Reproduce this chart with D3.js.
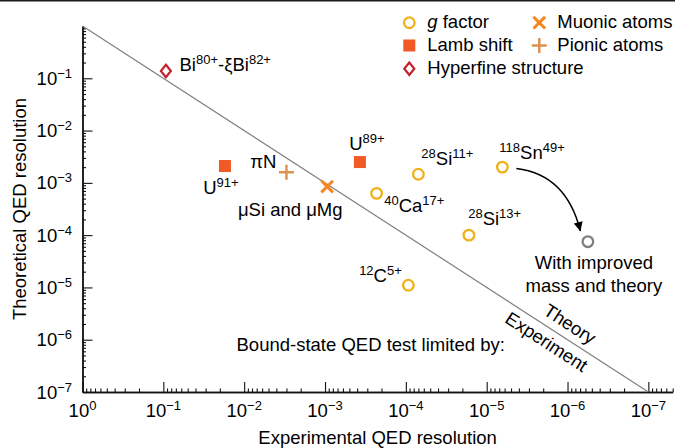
<!DOCTYPE html>
<html>
<head>
<meta charset="utf-8">
<script src="https://cdn.jsdelivr.net/npm/d3@7"></script>
<style>
  html, body { margin: 0; padding: 0; background: #fff; }
  svg { display: block; }
  text { font-family: "Liberation Sans", Arial, Helvetica, sans-serif; fill: #000; }
</style>
</head>
<body>
<svg id="chart" width="675" height="448"></svg>
<script>
// ---- data: experimental vs theoretical QED resolution ----
const gFactorLabels = ["^{118}Sn^{49+}", "^{28}Si^{11+}", "^{40}Ca^{17+}", "^{28}Si^{13+}", "^{12}C^{5+}"];
const gFactorExp    = [6.4e-6, 7.0e-5, 2.3e-4, 1.66e-5, 9.3e-5];
const gFactorTheo   = [2.0e-3, 1.46e-3, 6.3e-4, 1.0e-4, 1.1e-5];

const lambLabels = ["U^{91+}", "U^{89+}"];
const lambExp    = [1.73e-2, 3.7e-4];
const lambTheo   = [2.1e-3, 2.5e-3];

const hfsLabels = ["Bi^{80+}-ξBi^{82+}"];
const hfsExp    = [9.3e-2];
const hfsTheo   = [1.38e-1];

const muonicLabels = ["μSi and μMg"];
const muonicExp    = [9.4e-4];
const muonicTheo   = [8.5e-4];

const pionicLabels = ["πN"];
const pionicExp    = [3.0e-3];
const pionicTheo   = [1.6e-3];

const improvedLabel = ["With improved", "mass and theory"];
const improvedExp   = [5.6e-7];
const improvedTheo  = [7.5e-5];

const xMajorTicks = [1e0, 1e-1, 1e-2, 1e-3, 1e-4, 1e-5, 1e-6, 1e-7];
const xTickExponents = ["0", "−1", "−2", "−3", "−4", "−5", "−6", "−7"];
const yMajorTicks = [1e-1, 1e-2, 1e-3, 1e-4, 1e-5, 1e-6, 1e-7];
const yTickExponents = ["−1", "−2", "−3", "−4", "−5", "−6", "−7"];

const legendItems = [
  { key: "g", label: "g factor" },
  { key: "lamb", label: "Lamb shift" },
  { key: "hfs", label: "Hyperfine structure" },
  { key: "muon", label: "Muonic atoms" },
  { key: "pion", label: "Pionic atoms" }
];

// ---- styles ----
const COL = {
  g: "#f0b21a",
  lamb: "#f15a24",
  hfs: "#c4202b",
  muon: "#f7861e",
  pion: "#dc9352",
  improved: "#808080",
  diag: "#808080",
  axis: "#111"
};
const FS = 18.5, SUP = 13, SUPSHIFT = 7;

const svg = d3.select("#chart");
const W = 675, H = 448;
const margin = { left: 82.5, right: 2.3, top: 26, bottom: 56 };

const x = d3.scaleLog().domain([1, 5e-8]).range([margin.left, W - margin.right]);
const y = d3.scaleLog().domain([1e-7, 1]).range([H - margin.bottom, margin.top]);

// top rule of the figure panel
svg.append("rect").attr("x", 0).attr("y", 0).attr("width", W).attr("height", 1.5).attr("fill", "#1c1c1c");

// rich text helper: "^{..}" marks superscripts
function rich(sel, str, size = FS, supSize = SUP, shift = SUPSHIFT) {
  const parts = [];
  const re = /\^\{([^}]*)\}/g;
  let last = 0, m;
  while ((m = re.exec(str)) !== null) {
    if (m.index > last) parts.push({ t: str.slice(last, m.index), sup: false });
    parts.push({ t: m[1], sup: true });
    last = re.lastIndex;
  }
  if (last < str.length) parts.push({ t: str.slice(last), sup: false });
  let raised = false;
  parts.forEach(p => {
    const ts = sel.append("tspan").text(p.t);
    if (p.sup) {
      ts.attr("font-size", supSize);
      if (!raised) { ts.attr("dy", -shift); raised = true; }
    } else {
      ts.attr("font-size", size);
      if (raised) { ts.attr("dy", shift); raised = false; }
    }
  });
  return sel;
}

// ---- axes ----
const minorTicks = [];
for (let e = 0; e >= -8; e--) {
  for (let k = 2; k <= 9; k++) minorTicks.push(k * Math.pow(10, e));
}
const xMinor = minorTicks.filter(v => v <= 1 && v >= 5e-8 * 0.9999);
const yMinor = minorTicks.filter(v => v <= 1 && v >= 1e-7);

const xAxis = d3.axisBottom(x).tickValues(xMajorTicks).tickSizeInner(-10).tickSizeOuter(0).tickFormat("");
const xAxisMinor = d3.axisBottom(x).tickValues(xMinor).tickSizeInner(-3.5).tickSizeOuter(0).tickFormat("");
const yAxis = d3.axisLeft(y).tickValues(yMajorTicks).tickSizeInner(-10).tickSizeOuter(0).tickFormat("");
const yAxisMinor = d3.axisLeft(y).tickValues(yMinor).tickSizeInner(-3.5).tickSizeOuter(0).tickFormat("");

function styleAxis(g) {
  g.selectAll("path.domain").attr("stroke", COL.axis).attr("stroke-width", 1.4);
  g.selectAll(".tick line").attr("stroke", COL.axis).attr("stroke-width", 1.1);
}
const y0 = y.range()[0];
svg.append("g").attr("transform", `translate(0,${y0})`).call(xAxisMinor).call(styleAxis);
svg.append("g").attr("transform", `translate(0,${y0})`).call(xAxis).call(styleAxis);
svg.append("g").attr("transform", `translate(${margin.left},0)`).call(yAxisMinor).call(styleAxis);
svg.append("g").attr("transform", `translate(${margin.left},0)`).call(yAxis).call(styleAxis);

// tick labels as 10^n
xMajorTicks.forEach((v, i) => {
  const tx = svg.append("text").attr("x", x(v)).attr("y", y0 + 24.5).attr("text-anchor", "middle");
  rich(tx, "10^{" + xTickExponents[i] + "}");
});
yMajorTicks.forEach((v, i) => {
  const ty = svg.append("text").attr("x", margin.left - 10.5).attr("y", y(v) + 6.5).attr("text-anchor", "end");
  rich(ty, "10^{" + yTickExponents[i] + "}");
});

// axis titles
svg.append("text").attr("x", (x.range()[0] + x.range()[1]) / 2).attr("y", 443.5)
  .attr("text-anchor", "middle").attr("font-size", FS).text("Experimental QED resolution");
svg.append("text")
  .attr("transform", `translate(26,${(y.range()[0] + y.range()[1]) / 2}) rotate(-90)`)
  .attr("text-anchor", "middle").attr("font-size", FS).text("Theoretical QED resolution");

// ---- diagonal: theory limit = experiment limit ----
svg.append("line")
  .attr("x1", x(1)).attr("y1", y(1)).attr("x2", x(1e-7)).attr("y2", y(1e-7))
  .attr("stroke", COL.diag).attr("stroke-width", 1.2);

const diagAngle = Math.atan2(y(1e-7) - y(1), x(1e-7) - x(1)) * 180 / Math.PI;
const diagV = Math.pow(10, -5.87);
const dg = svg.append("g").attr("transform", `translate(${x(diagV)},${y(diagV)}) rotate(${diagAngle})`);
dg.append("text").attr("x", 6).attr("y", -8).attr("text-anchor", "middle").attr("font-size", FS).text("Theory");
dg.append("text").attr("x", -4).attr("y", 19.5).attr("text-anchor", "middle").attr("font-size", FS).text("Experiment");

svg.append("text").attr("x", 236.5).attr("y", 351).attr("font-size", FS).text("Bound-state QED test limited by:");

// ---- marker shapes ----
function drawMarker(g, key, cx, cy) {
  if (key === "g" || key === "improved") {
    g.append("circle").attr("cx", cx).attr("cy", cy).attr("r", 5.3)
      .attr("fill", "#fff").attr("stroke", COL[key]).attr("stroke-width", 2.3);
  } else if (key === "lamb") {
    g.append("rect").attr("x", cx - 6).attr("y", cy - 6).attr("width", 12).attr("height", 12).attr("fill", COL.lamb);
  } else if (key === "hfs") {
    g.append("path").attr("d", `M${cx},${cy - 6.2}L${cx + 5},${cy}L${cx},${cy + 6.2}L${cx - 5},${cy}Z`)
      .attr("fill", "#fff").attr("stroke", COL.hfs).attr("stroke-width", 2.2);
  } else if (key === "muon") {
    const s = 5.8;
    g.append("path").attr("d", `M${cx - s},${cy - s}L${cx + s},${cy + s}M${cx - s},${cy + s}L${cx + s},${cy - s}`)
      .attr("stroke", COL.muon).attr("stroke-width", 3).attr("fill", "none");
  } else if (key === "pion") {
    const s = 7.5;
    g.append("path").attr("d", `M${cx - s},${cy}L${cx + s},${cy}M${cx},${cy - s}L${cx},${cy + s}`)
      .attr("stroke", COL.pion).attr("stroke-width", 2.5).attr("fill", "none");
  }
}

// ---- arrow from Sn to improved projection ----
const defs = svg.append("defs");
defs.append("marker").attr("id", "head").attr("viewBox", "0 0 10 10")
  .attr("refX", 10).attr("refY", 5).attr("markerWidth", 10).attr("markerHeight", 9)
  .attr("markerUnits", "userSpaceOnUse").attr("orient", "auto")
  .append("path").attr("d", "M0,0L10,5L0,10Z").attr("fill", "#000");

const snX = x(gFactorExp[0]), snY = y(gFactorTheo[0]);
const imX = x(improvedExp[0]), imY = y(improvedTheo[0]);
const a0 = [snX + 14, snY + 1.5], a1 = [imX - 7.5, imY - 10.5];
svg.append("path")
  .attr("d", `M${a0[0]},${a0[1]}Q${a0[0] + 50},${a0[1] + 6} ${a1[0]},${a1[1]}`)
  .attr("fill", "none").attr("stroke", "#000").attr("stroke-width", 1.5)
  .attr("marker-end", "url(#head)");

// ---- points ----
const pts = svg.append("g");
gFactorExp.forEach((v, i) => drawMarker(pts, "g", x(v), y(gFactorTheo[i])));
lambExp.forEach((v, i) => drawMarker(pts, "lamb", x(v), y(lambTheo[i])));
hfsExp.forEach((v, i) => drawMarker(pts, "hfs", x(v), y(hfsTheo[i])));
muonicExp.forEach((v, i) => drawMarker(pts, "muon", x(v), y(muonicTheo[i])));
pionicExp.forEach((v, i) => drawMarker(pts, "pion", x(v), y(pionicTheo[i])));
improvedExp.forEach((v, i) => drawMarker(pts, "improved", x(v), y(improvedTheo[i])));

// ---- point labels (offsets in px from the marker) ----
const gOff = [[-3, -8.4, "start"], [3, -9.3, "start"], [7.6, 18.4, "start"], [-0.7, -10, "start"], [-6.6, -3.3, "end"]];
const lambOff = [[-21.7, 27.6, "start"], [-10.7, -12, "start"]];
const hfsOff = [[13.6, 0.5, "start"]];
const muonOff = [[15.4, 29.3, "end"]];
const pionOff = [[-10, -4.6, "end"]];

function labelSeries(labels, ex, th, off) {
  labels.forEach((lab, i) => {
    const t = svg.append("text")
      .attr("x", x(ex[i]) + off[i][0]).attr("y", y(th[i]) + off[i][1])
      .attr("text-anchor", off[i][2]);
    rich(t, lab);
  });
}
labelSeries(gFactorLabels, gFactorExp, gFactorTheo, gOff);
labelSeries(lambLabels, lambExp, lambTheo, lambOff);
labelSeries(hfsLabels, hfsExp, hfsTheo, hfsOff);
labelSeries(muonicLabels, muonicExp, muonicTheo, muonOff);
labelSeries(pionicLabels, pionicExp, pionicTheo, pionOff);

improvedLabel.forEach((line, i) => {
  svg.append("text").attr("x", imX + 6).attr("y", imY + 27.6 + i * 22.4)
    .attr("text-anchor", "middle").attr("font-size", FS).text(line);
});

// ---- legend ----
const legendPos = [[409.3, 22.7], [409.3, 45.5], [409.3, 68.7], [539.3, 22.7], [539.3, 45.5]];
legendItems.forEach((d, i) => {
  const [lx, ly] = legendPos[i];
  drawMarker(svg, d.key, lx, ly);
  const t = svg.append("text").attr("x", lx + 18).attr("y", ly + 5.5).attr("font-size", FS);
  if (d.key === "g") {
    t.append("tspan").attr("font-style", "italic").text("g");
    t.append("tspan").text(" factor");
  } else {
    t.text(d.label);
  }
});
</script>
</body>
</html>
